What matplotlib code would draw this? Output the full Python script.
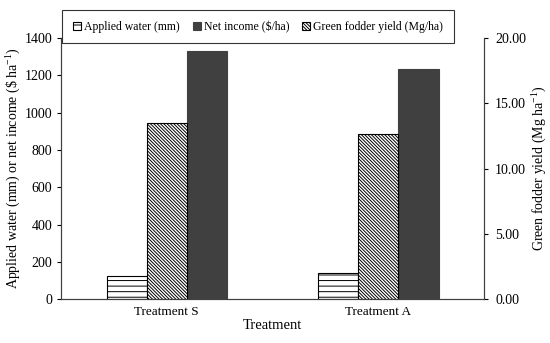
import numpy as np
import matplotlib
matplotlib.use('Agg')
import matplotlib.pyplot as plt

plt.rcParams['font.family'] = ['Liberation Serif', 'DejaVu Serif']
plt.rcParams['mathtext.fontset'] = 'custom'
plt.rcParams['mathtext.rm'] = 'Liberation Serif'
plt.rcParams['hatch.linewidth'] = 0.7

treatments = ["Treatment S", "Treatment A"]
applied_water = [123, 139]      # mm
net_income = [1330, 1235]       # $/ha
green_fodder = [13.5, 12.65]    # Mg/ha

x = np.arange(len(treatments))
w = 0.19

fig = plt.figure(figsize=(5.5, 3.43), dpi=100)
ax = fig.add_axes([0.111, 0.128, 0.769, 0.761])
ax2 = ax.twinx()

b1 = ax.bar(x - w, applied_water, w, color='white', edgecolor='black',
            hatch='---', linewidth=0.8, label='Applied water (mm)')
b3 = ax.bar(x + w, net_income, w, color='#404040', edgecolor='#404040',
            linewidth=0.8, label='Net income ($/ha)')
b2 = ax2.bar(x, green_fodder, w, color='white', edgecolor='black',
             hatch='\\' * 10, linewidth=0.8, label='Green fodder yield (Mg/ha)')

ax.set_xlim(-0.5, 1.5)
ax.set_ylim(0, 1400)
ax.set_yticks(range(0, 1401, 200))
ax2.set_ylim(0, 20)
ax2.set_yticks([0, 5, 10, 15, 20])
ax2.set_yticklabels(['%.2f' % v for v in [0, 5, 10, 15, 20]])

ax.set_xticks(x)
ax.set_xticklabels(treatments)
ax.tick_params(axis='x', length=0, labelsize=9.5, pad=5)
ax.tick_params(axis='y', labelsize=10, direction='out', length=3, width=0.8)
ax2.tick_params(axis='y', labelsize=10, direction='out', length=3, width=0.8, pad=5)

for a in (ax, ax2):
    a.spines['top'].set_visible(False)
    for s in ('left', 'right', 'bottom'):
        a.spines[s].set_color('#404040')
        a.spines[s].set_linewidth(0.8)

ax.set_xlabel('Treatment', fontsize=10.5, labelpad=1)
ax.set_ylabel('Applied water (mm) or net income (\\$ ha$\\mathregular{^{-1}}$)', fontsize=10, labelpad=1)
ax2.set_ylabel('Green fodder yield (Mg ha$\\mathregular{^{-1}}$)', fontsize=10, labelpad=3)

leg = fig.legend([b1, b3, b2],
                 ['Applied water (mm)', 'Net income ($/ha)', 'Green fodder yield (Mg/ha)'],
                 loc='upper center', bbox_to_anchor=(0.469, 0.988), ncol=3,
                 fontsize=8.5, frameon=True, fancybox=False, edgecolor='black',
                 handlelength=0.68, handleheight=0.68, handletextpad=0.25,
                 columnspacing=1.1, borderpad=0.9)
leg.get_frame().set_linewidth(0.8)

fig.savefig('out.png', dpi=100)
